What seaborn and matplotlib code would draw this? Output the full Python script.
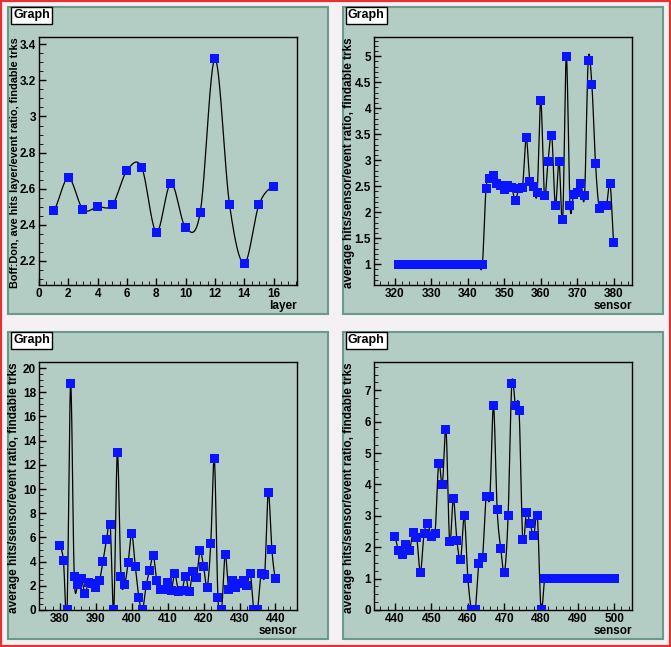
import numpy as np
import matplotlib
matplotlib.use("Agg")
import matplotlib.pyplot as plt
import seaborn as sns
from matplotlib.patches import Rectangle
from matplotlib.ticker import MultipleLocator

plt.rcParams["font.family"] = "Liberation Sans"
plt.rcParams["font.weight"] = "bold"

layer_x = list(range(1, 17))
layer_y = [2.48, 2.66, 2.485, 2.50, 2.51, 2.70, 2.72, 2.36, 2.63, 2.385, 2.47, 3.32, 2.51, 2.185, 2.51, 2.615]

s2_x = list(range(321, 381))
s2_y = [1.0] * 24 + [2.45, 2.65, 2.7, 2.55, 2.52, 2.43, 2.52, 2.48, 2.23, 2.45, 2.48, 3.43, 2.6, 2.5,
                     2.37, 4.15, 2.33, 2.98, 3.48, 2.12, 2.98, 1.86, 5.0, 2.13, 2.35, 2.37, 2.56, 2.33,
                     4.92, 4.45, 2.94, 2.08, 2.13, 2.12, 2.55, 1.42]

s3_x = list(range(380, 441))
s3_y = [5.3, 4.1, 0, 18.7, 2.8, 2.1, 2.6, 1.4, 2.3, 2.2, 1.9, 2.4, 4.0, 5.8, 7.1, 0, 13.0, 2.8, 2.1, 3.9,
        6.3, 3.6, 1.0, 0, 2.0, 3.3, 4.5, 2.4, 1.7, 1.7, 2.3, 1.6, 3.0, 1.5, 1.6, 2.8, 1.5, 3.2, 2.7, 4.9,
        3.6, 1.9, 5.5, 12.5, 1.0, 0, 4.6, 1.7, 2.4, 1.9, 2.2, 2.4, 2.0, 3.0, 0, 0, 3.0, 2.9, 9.7, 5.0, 2.6]

s4_x = list(range(440, 501))
s4_y = [2.33, 1.9, 1.78, 2.08, 1.9, 2.47, 2.3, 1.2, 2.43, 2.75, 2.33, 2.43, 4.67, 4.0, 5.75, 2.17, 3.55,
        2.2, 1.6, 3.0, 1.0, 0, 0, 1.48, 1.67, 3.62, 3.6, 6.5, 3.2, 1.95, 1.2, 3.0, 7.2, 6.5, 6.35, 2.25,
        3.1, 2.75, 2.37, 3.0, 0] + [1.0] * 20

panels = [
    (layer_x, layer_y, (0, 17.6), (2.067, 3.44), "layer",
     "Boff:Don, ave hits layer/event ratio, findable trks", 2, 0.5, 0.2, 0.05, 7.8),
    (s2_x, s2_y, (314.3, 385), (0.6, 5.37), "sensor",
     "average hits/sensor/event ratio, findable trks", 10, 2, 0.5, 0.1, 8.5),
    (s3_x, s3_y, (374.2, 446), (0, 20.5), "sensor",
     "average hits/sensor/event ratio, findable trks", 10, 2, 2, 0.5, 8.5),
    (s4_x, s4_y, (434.3, 504.9), (0, 7.9), "sensor",
     "average hits/sensor/event ratio, findable trks", 10, 2, 1, 0.25, 8.5),
]


def catmull(x, y, n=12):
    x = np.asarray(x, float); y = np.asarray(y, float)
    xp = np.concatenate([[2 * x[0] - x[1]], x, [2 * x[-1] - x[-2]]])
    yp = np.concatenate([[y[0]], y, [y[-1]]])
    xs, ys = [], []
    t = np.linspace(0, 1, n, endpoint=False)
    for i in range(1, len(xp) - 2):
        p0, p1, p2, p3 = yp[i - 1], yp[i], yp[i + 1], yp[i + 2]
        yy = 0.5 * (2 * p1 + (-p0 + p2) * t + (2 * p0 - 5 * p1 + 4 * p2 - p3) * t ** 2
                    + (-p0 + 3 * p1 - 3 * p2 + p3) * t ** 3)
        xs.extend(xp[i] + (xp[i + 1] - xp[i]) * t)
        ys.extend(yy)
    xs.append(x[-1]); ys.append(y[-1])
    return np.array(xs), np.array(ys)


fig = plt.figure(figsize=(6.71, 6.47), dpi=100, facecolor="#f4f0f4")
fig.patches.append(Rectangle((0, 0), 1, 1, transform=fig.transFigure, fill=False,
                             edgecolor="#e83030", linewidth=3, zorder=-2))

offsets = [(0, 0), (335, 0), (0, 325), (335, 325)]
for (ox, oy), p in zip(offsets, panels):
    x, y, xl, yl, xlab, ylab, xmaj, xmin, ymaj, ymin, yfs = p
    W, H = 671, 647
    fig.patches.append(Rectangle(((ox + 8) / W, 1 - (oy + 314) / H), 320 / W, 307 / H,
                                 transform=fig.transFigure, facecolor="#b4cdc4",
                                 edgecolor="#6a9a8c", linewidth=1.5, zorder=-1))
    ax = fig.add_axes([(ox + 39) / W, 1 - (oy + 285) / H, 258 / W, 248 / H])
    ax.set_facecolor("#b4cdc4")
    sx, sy = catmull(x, y)
    ax.plot(sx, sy, color="black", linewidth=0.9)
    sns.scatterplot(x=x, y=y, ax=ax, marker="s", s=42, color="#0a14ff", edgecolor="none", zorder=3)
    ax.set_xlim(*xl); ax.set_ylim(*yl)
    ax.xaxis.set_major_locator(MultipleLocator(xmaj)); ax.xaxis.set_minor_locator(MultipleLocator(xmin))
    ax.yaxis.set_major_locator(MultipleLocator(ymaj)); ax.yaxis.set_minor_locator(MultipleLocator(ymin))
    ax.yaxis.set_major_formatter(matplotlib.ticker.FuncFormatter(lambda v, _: f"{v:g}"))
    ax.tick_params(direction="in", length=5, labelsize=8.5, width=1, pad=2)
    ax.tick_params(which="minor", direction="in", length=3)
    for sp in ax.spines.values():
        sp.set_linewidth(1)
    ax.set_xlabel(xlab, fontsize=8.5, fontweight="bold", loc="right", labelpad=0)
    ax.set_ylabel(ylab, fontsize=yfs, fontweight="bold", loc="top", labelpad=1)
    ax.yaxis.set_label_coords(-0.075, 1.0)
    fig.text((ox + 13) / W, 1 - (oy + 15) / H, "Graph", fontsize=9, va="center", ha="left",
             bbox=dict(facecolor="white", edgecolor="black", boxstyle="square,pad=0.2", linewidth=1))

fig.savefig("out.png", dpi=100, facecolor=fig.get_facecolor())
